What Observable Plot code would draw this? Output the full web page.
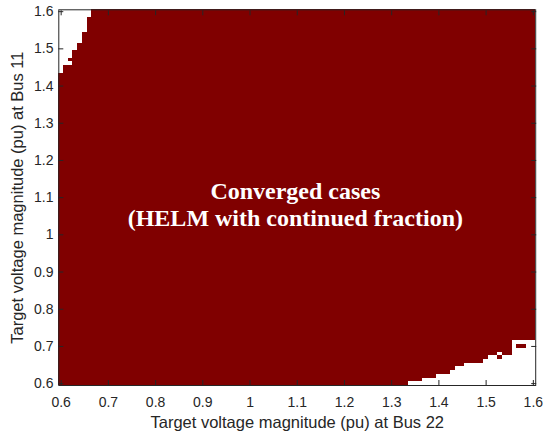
<!DOCTYPE html>
<html><head><meta charset="utf-8">
<script src="https://cdn.jsdelivr.net/npm/d3@7"></script>
<script src="https://cdn.jsdelivr.net/npm/@observablehq/plot@0.6"></script>
<style>body{margin:0;background:#fff}</style>
</head><body><div id="chart"></div>
<script>
// Grid of simulated cases (target voltages, pu), step 0.01
const gridStep = 0.01;
const gridMin = 0.60;
const gridMax = 1.60;

// Top-left non-converged region: highest converged Bus 11 value per Bus 22 column
const topCols = [0.60, 0.61, 0.62, 0.63, 0.64, 0.65, 0.66];
const topLast = [1.43, 1.45, 1.45, 1.49, 1.51, 1.54, 1.58];

// Bottom-right non-converged region: lowest converged Bus 11 value per Bus 22 column
const botCols = [1.34, 1.35, 1.36, 1.37, 1.38, 1.39, 1.40, 1.41, 1.42, 1.43, 1.44, 1.45, 1.46, 1.47,
                 1.48, 1.49, 1.50, 1.51, 1.52, 1.53, 1.54, 1.55, 1.56, 1.57, 1.58, 1.59, 1.60];
const botFirst = [0.61, 0.61, 0.61, 0.62, 0.62, 0.62, 0.63, 0.63, 0.63, 0.64, 0.65, 0.65, 0.66, 0.66,
                  0.66, 0.66, 0.67, 0.68, 0.68, 0.69, 0.68, 0.68, 0.72, 0.72, 0.72, 0.72, 0.72];

// Isolated converged cases inside the non-converged regions
const islandX = [0.62, 1.53, 1.57, 1.58];
const islandY = [1.47, 0.67, 0.70, 0.70];

const xTicks = [0.6, 0.7, 0.8, 0.9, 1, 1.1, 1.2, 1.3, 1.4, 1.5, 1.6];
const yTicks = [0.6, 0.7, 0.8, 0.9, 1, 1.1, 1.2, 1.3, 1.4, 1.5, 1.6];

const xLabel = "Target voltage magnitude (pu) at Bus 22";
const yLabel = "Target voltage magnitude (pu) at Bus 11";
const annotation = "Converged cases\n(HELM with continued fraction)";
const annotationX = 1.096;
const annotationY = 1.082;

// Build column table
const round2 = v => Math.round(v * 100) / 100;
const topMap = new Map(topCols.map((c, i) => [c, topLast[i]]));
const botMap = new Map(botCols.map((c, i) => [c, botFirst[i]]));
const nCols = Math.round((gridMax - gridMin) / gridStep) + 1;
const columns = d3.range(nCols).map(i => round2(gridMin + i * gridStep));
const cells = columns.map(x => ({x, lo: botMap.get(x) ?? gridMin, hi: topMap.get(x) ?? gridMax}));
islandX.forEach((x, i) => cells.push({x, lo: islandY[i], hi: islandY[i]}));

const h = gridStep / 2;
const axisColor = "#262626";
const fmt = d => String(d);

const chart = Plot.plot({
  width: 543,
  height: 432,
  marginLeft: 58.3,
  marginRight: 7.8,
  marginTop: 9.3,
  marginBottom: 47,
  style: {fontFamily: "'Liberation Sans', Arial, sans-serif", fontSize: "14px", color: axisColor, background: "white"},
  x: {domain: [gridMin - h, gridMax + h]},
  y: {domain: [gridMin - h, gridMax + h]},
  marks: [
    Plot.rect(cells, {
      x1: d => d.x - h, x2: d => d.x + h,
      y1: d => d.lo - h, y2: d => d.hi + h,
      fill: "#800000", shapeRendering: "crispEdges"
    }),
    Plot.text([annotation], {
      x: annotationX, y: annotationY, text: d => d,
      fill: "white", fontFamily: "'Liberation Serif', 'Times New Roman', serif",
      fontWeight: "bold", fontSize: 24, lineHeight: 1.125,
      textAnchor: "middle", lineAnchor: "middle"
    }),
    Plot.frame({stroke: axisColor, strokeWidth: 1}),
    Plot.axisX({anchor: "bottom", ticks: xTicks, tickSize: -5, tickPadding: 16.7, tickFormat: fmt, label: null, stroke: axisColor, fill: axisColor}),
    Plot.axisX({anchor: "top", ticks: xTicks, tickSize: -5, fill: "none", label: null, stroke: axisColor}),
    Plot.axisY({anchor: "left", ticks: yTicks, tickSize: -5, tickPadding: 10.3, tickFormat: fmt, label: null, stroke: axisColor, fill: axisColor}),
    Plot.axisY({anchor: "right", ticks: yTicks, tickSize: -5, fill: "none", label: null, stroke: axisColor}),
    Plot.text([xLabel], {frameAnchor: "bottom", dy: 37, text: d => d, fontSize: 16.5, fill: axisColor, lineAnchor: "middle", textAnchor: "middle"}),
    Plot.text([yLabel], {frameAnchor: "left", dx: -41, rotate: -90, text: d => d, fontSize: 16.5, fill: axisColor, lineAnchor: "middle", textAnchor: "middle"})
  ]
});
document.getElementById("chart").appendChild(chart);
</script>
</body></html>
